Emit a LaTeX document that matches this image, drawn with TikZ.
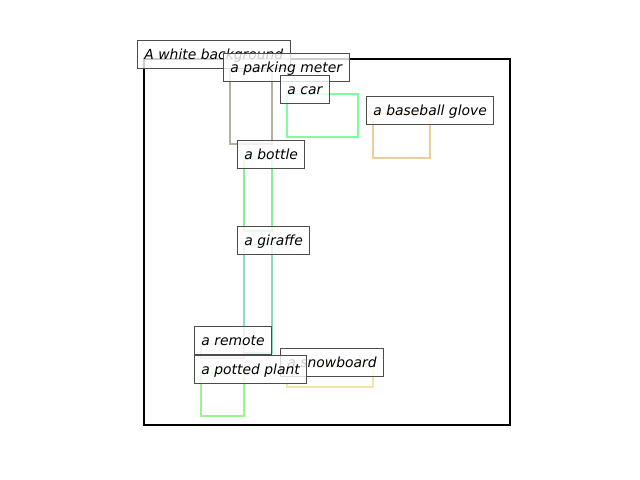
\documentclass[tikz,border=0pt]{standalone}
\usepackage{fontspec}
\setmainfont{DejaVu Sans}
\begin{document}
\begin{tikzpicture}[x=0.72pt,y=-0.72pt,
  objbox/.style={line width=1.9pt},
  lbl/.style={anchor=base west,draw=black!70,line width=0.72pt,fill=white,fill opacity=0.8,text opacity=1,
    font=\itshape\fontsize{10}{12}\selectfont,inner xsep=5pt,inner ysep=3pt,text height=10pt,text depth=3.5pt}]
\useasboundingbox (0,0) rectangle (640,480);
\definecolor{cmeter}{HTML}{B5B19F}
\definecolor{ccar}{HTML}{7DFCA0}
\definecolor{cglove}{HTML}{EBCD9F}
\definecolor{cbottle}{HTML}{85F096}
\definecolor{cgiraffe}{HTML}{8DDCBC}
\definecolor{cremote}{HTML}{C8C8CD}
\definecolor{cplant}{HTML}{98F590}
\definecolor{csnow}{HTML}{F8E1A8}
% axes frame
\draw[line width=1.6pt,black] (144,59) coordinate (frameNW) rectangle (510,425) coordinate (frameSE);
\node[lbl] (lwhite) at (137,59) {A white background};
% parking meter
\draw[objbox,cmeter] (230,71) coordinate (meterNW) rectangle (272,144);
\node[lbl] (lmeter) at (223,72) {a parking meter};
% car
\draw[objbox,ccar] (287,94) coordinate (carNW) rectangle (358,137);
\node[lbl] (lcar) at (280,94) {a car};
% baseball glove
\draw[objbox,cglove] (373,113) coordinate (gloveNW) rectangle (430,158);
\node[lbl] (lglove) at (366,115) {a baseball glove};
% bottle
\draw[objbox,cbottle] (244,159) coordinate (bottleNW) rectangle (272,231);
\node[lbl] (lbottle) at (237,159) {a bottle};
% giraffe
\draw[objbox,cgiraffe] (244,245) coordinate (giraffeNW) rectangle (272,353);
\node[lbl] (lgiraffe) at (237,245) {a giraffe};
% remote
\draw[objbox,cremote] (201,344) coordinate (remoteNW) rectangle (244,358);
\node[lbl] (lremote) at (194,345) {a remote};
% snowboard
\draw[objbox,csnow] (287,367) coordinate (snowNW) rectangle (373,387);
\node[lbl] (lsnow) at (280,367) {a snowboard};
% potted plant
\draw[objbox,cplant] (201,373) coordinate (plantNW) rectangle (244,416);
\node[lbl] (lplant) at (194,374) {a potted plant};
\end{tikzpicture}
\end{document}
